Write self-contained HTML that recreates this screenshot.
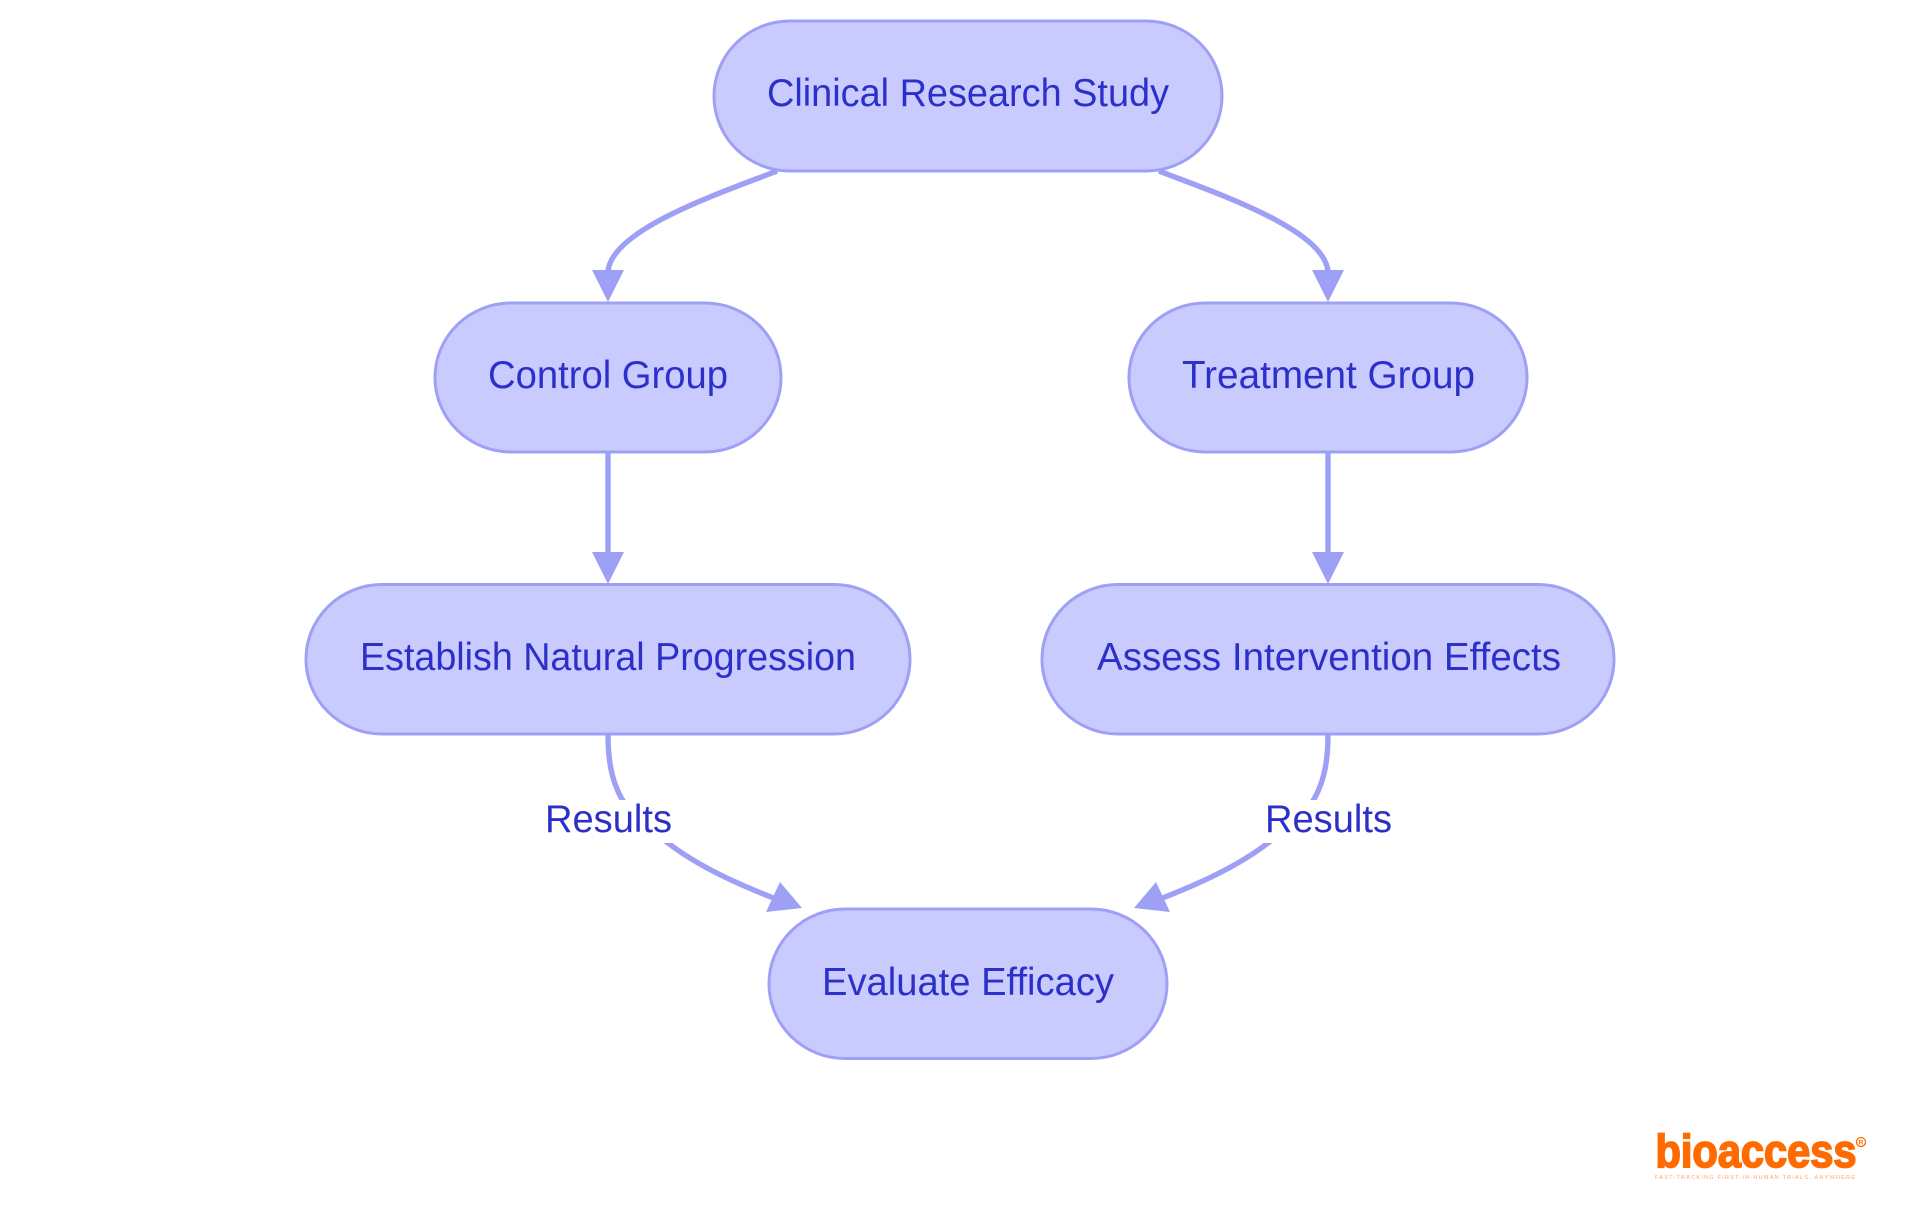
<!DOCTYPE html>
<html>
<head>
<meta charset="utf-8">
<style>
html,body{margin:0;padding:0;background:#fff;width:1920px;height:1215px;overflow:hidden}
svg{display:block}
.n{fill:#C9CBFF;stroke:#9DA0F4;stroke-width:3}
.e{fill:none;stroke:#9DA0F4;stroke-width:5.4}
.a{fill:#9DA0F4}
.t{font-family:"Liberation Sans",sans-serif;font-size:39px;fill:#2C30C8}
</style>
</head>
<body>
<svg width="1920" height="1215" viewBox="0 0 1920 1215" xmlns="http://www.w3.org/2000/svg">
<rect width="1920" height="1215" fill="#fff"/>

<path class="e" d="M777,171 C720,193 610,230 608,272"/>
<path class="e" d="M1159,171 C1216,193 1326,230 1328,272"/>
<path class="e" d="M608,452 L608,555"/>
<path class="e" d="M1328,452 L1328,555"/>
<path class="e" d="M608,734 C608,790 625,815 668,843 C698,866 735,883 776,899"/>
<path class="e" d="M1328,734 C1328,790 1311,815 1268,843 C1238,866 1201,883 1160,899"/>

<rect x="540" y="800" width="136" height="43" fill="#fff"/>
<rect x="1260" y="800" width="136" height="43" fill="#fff"/>

<polygon class="a" points="592,270 624,270 608,302"/>
<polygon class="a" points="1312,270 1344,270 1328,302"/>
<polygon class="a" points="592,552 624,552 608,584"/>
<polygon class="a" points="1312,552 1344,552 1328,584"/>
<polygon class="a" points="780,882 766,912 802,908"/>
<polygon class="a" points="1156,882 1170,912 1134,908"/>

<rect class="n" x="714" y="21" width="508" height="150" rx="76" ry="75"/>
<rect class="n" x="435" y="303" width="346" height="149" rx="76" ry="75"/>
<rect class="n" x="1129" y="303" width="398" height="149" rx="76" ry="75"/>
<rect class="n" x="306" y="584.5" width="604" height="149.5" rx="76" ry="75"/>
<rect class="n" x="1042" y="584.5" width="572" height="149.5" rx="76" ry="75"/>
<rect class="n" x="769" y="909" width="398" height="149.5" rx="76" ry="75"/>

<text class="t" x="767" y="106" textLength="402" lengthAdjust="spacingAndGlyphs">Clinical Research Study</text>
<text class="t" x="488" y="388" textLength="240" lengthAdjust="spacingAndGlyphs">Control Group</text>
<text class="t" x="1182" y="388" textLength="293" lengthAdjust="spacingAndGlyphs">Treatment Group</text>
<text class="t" x="360" y="670" textLength="496" lengthAdjust="spacingAndGlyphs">Establish Natural Progression</text>
<text class="t" x="1097" y="670" textLength="464" lengthAdjust="spacingAndGlyphs">Assess Intervention Effects</text>
<text class="t" x="822" y="995" textLength="292" lengthAdjust="spacingAndGlyphs">Evaluate Efficacy</text>
<text class="t" x="545" y="832" textLength="127" lengthAdjust="spacingAndGlyphs">Results</text>
<text class="t" x="1265" y="832" textLength="127" lengthAdjust="spacingAndGlyphs">Results</text>

<text x="1655.5" y="1167" textLength="201" lengthAdjust="spacingAndGlyphs" font-family="Liberation Sans, sans-serif" font-weight="700" font-size="46" fill="#FF6B00" stroke="#FF6B00" stroke-width="1.8">bioaccess</text>
<circle cx="1861" cy="1142" r="4.5" fill="none" stroke="#FF6B00" stroke-width="1.3"/>
<text x="1861" y="1144.5" text-anchor="middle" font-family="Liberation Sans, sans-serif" font-weight="700" font-size="6.5" fill="#FF6B00">R</text>
<text x="1655" y="1179" textLength="200" lengthAdjust="spacing" font-family="Liberation Sans, sans-serif" font-size="5.6" fill="#FFA566">FAST-TRACKING FIRST-IN-HUMAN TRIALS, ANYWHERE</text>
</svg>
</body>
</html>
